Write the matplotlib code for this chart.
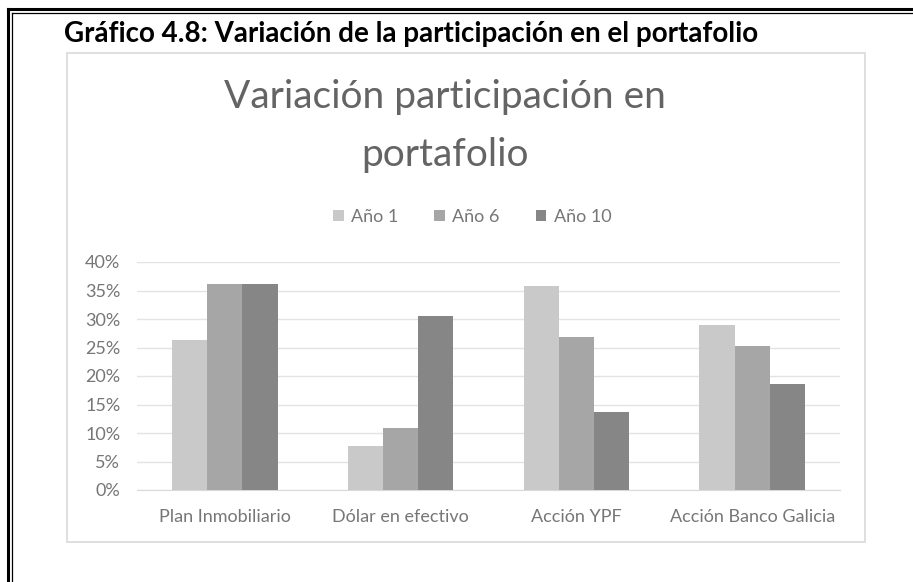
import matplotlib
matplotlib.use('Agg')
import matplotlib.pyplot as plt
import matplotlib.ticker as ticker
from matplotlib.patches import Rectangle
from matplotlib.lines import Line2D
import numpy as np

# data
categories = ['Plan Inmobiliario', 'Dólar en efectivo', 'Acción YPF', 'Acción Banco Galicia']
series_names = ['Año 1', 'Año 6', 'Año 10']
anio1 = [0.263, 0.078, 0.358, 0.290]
anio6 = [0.361, 0.109, 0.269, 0.253]
anio10 = [0.361, 0.305, 0.137, 0.186]
colors = ['#c9c9c9', '#a6a6a6', '#868686']

plt.rcParams['font.family'] = ['Lato', 'DejaVu Sans']

W, H = 913, 582
fig = plt.figure(figsize=(W / 100, H / 100), dpi=100)

# outer double frame (top and left only, cut at right and bottom)
fig.add_artist(Line2D([8 / W, 8 / W], [0, 1 - 9 / H], transform=fig.transFigure, color='black', lw=2.2))
fig.add_artist(Line2D([8 / W, 1], [1 - 9 / H, 1 - 9 / H], transform=fig.transFigure, color='black', lw=2.2))
fig.add_artist(Line2D([12 / W, 12 / W], [0, 1 - 13 / H], transform=fig.transFigure, color='black', lw=0.9))
fig.add_artist(Line2D([12 / W, 1], [1 - 13 / H, 1 - 13 / H], transform=fig.transFigure, color='black', lw=0.9))

# heading
fig.text(64 / W, 1 - 34 / H, 'Gráfico 4.8: Variación de la participación en el portafolio',
         fontsize=20, fontweight='bold', color='black', va='center', ha='left')

# chart box
fig.add_artist(Rectangle((67 / W, 1 - 542 / H), (865 - 67) / W, (542 - 53) / H,
                         transform=fig.transFigure, fill=False, edgecolor='#d9d9d9', lw=1.2))

# chart title
fig.text(445 / W, 1 - 97 / H, 'Variación participación en', fontsize=28, color='#646464',
         ha='center', va='center')
fig.text(445 / W, 1 - 155 / H, 'portafolio', fontsize=28, color='#646464',
         ha='center', va='center')

ax = fig.add_axes([137 / W, 1 - 490 / H, (840 - 137) / W, (490 - 262) / H])
x = np.arange(len(categories))
w = 0.2
for i, (vals, name) in enumerate(zip([anio1, anio6, anio10], series_names)):
    ax.bar(x + (i - 1) * w, vals, width=w, color=colors[i], label=name, zorder=3)

ax.set_xlim(-0.5, len(categories) - 0.5)
ax.set_ylim(0, 0.40)
ax.yaxis.set_major_locator(ticker.MultipleLocator(0.05))
ax.yaxis.set_major_formatter(ticker.PercentFormatter(1.0, decimals=0))
ax.grid(axis='y', color='#e3e3e3', lw=1, zorder=0)
ax.set_xticks(x)
ax.set_xticklabels(categories)
ax.tick_params(axis='both', length=0, colors='#767676', labelsize=13)
ax.tick_params(axis='x', pad=14)
ax.tick_params(axis='y', pad=12)
for s in ['top', 'right', 'left']:
    ax.spines[s].set_visible(False)
ax.spines['bottom'].set_color('#d9d9d9')

ax.legend(loc='center', bbox_to_anchor=(472 / W, 1 - 217 / H), bbox_transform=fig.transFigure,
          ncol=3, frameon=False, fontsize=13, labelcolor='#767676',
          handlelength=0.6, handleheight=0.6, handletextpad=0.4, columnspacing=2.0)

fig.savefig('out.png', dpi=100, facecolor='white')
